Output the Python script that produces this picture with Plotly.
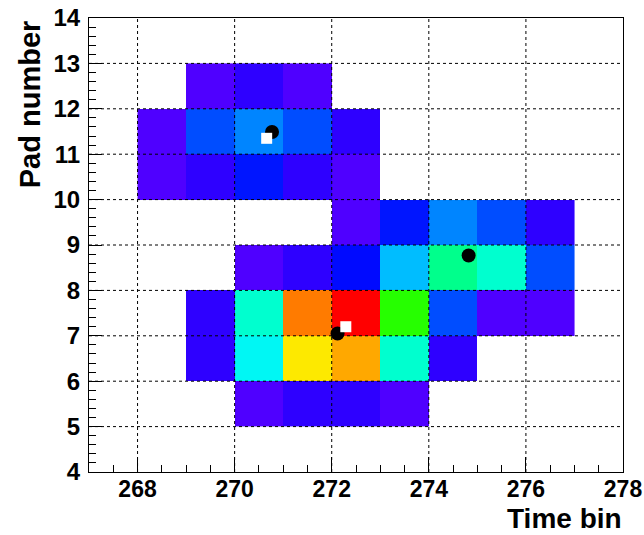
import colorsys
import plotly.graph_objects as go

# ---- data ----
x_bins = [268, 269, 270, 271, 272, 273, 274, 275, 276]   # lower edges of time bins
y_bins = [5, 6, 7, 8, 9, 10, 11, 12]                     # lower edges of pad bins
N = None
charge = [
    [N, N, 2, 5, 5, 2, N, N, N],          # pad 5
    [N, 5, 32, 79, 85, 36, 5, N, N],      # pad 6
    [N, 5, 36, 89, 100, 58, 16, 2, 2],    # pad 7
    [N, N, 2, 5, 10, 26, 42, 36, 16],     # pad 8
    [N, N, N, N, 2, 11, 21, 16, 5],       # pad 9
    [2, 5, 11, 5, 2, N, N, N, N],         # pad 10
    [2, 16, 21, 16, 5, N, N, N, N],       # pad 11
    [N, 2, 5, 2, N, N, N, N, N],          # pad 12
]
circle_x = [270.77, 272.12, 274.82]
circle_y = [11.49, 7.05, 8.77]
square_x = [270.66, 272.29]
square_y = [11.35, 7.20]

x_ticks = [268, 270, 272, 274, 276, 278]
y_ticks = [4, 5, 6, 7, 8, 9, 10, 11, 12, 13, 14]

# ---- palette (ROOT-like rainbow, violet -> red) ----
n = 30
colorscale = []
for i in range(n + 1):
    f = i / n
    h = (264 - 264 * f) / 360.0
    r, g, b = colorsys.hsv_to_rgb(h, 1, 1)
    colorscale.append([f, f"rgb({int(r*255)},{int(g*255)},{int(b*255)})"])

fig = go.Figure()
fig.add_trace(go.Heatmap(
    x=[v + 0.5 for v in x_bins],
    y=[v + 0.5 for v in y_bins],
    z=charge,
    zmin=0, zmax=100,
    colorscale=colorscale,
    showscale=False,
    hoverongaps=False,
))
fig.add_trace(go.Scatter(
    x=circle_x, y=circle_y, mode="markers",
    marker=dict(symbol="circle", size=14, color="black"),
    showlegend=False,
))
fig.add_trace(go.Scatter(
    x=square_x, y=square_y, mode="markers",
    marker=dict(symbol="square", size=11, color="white"),
    showlegend=False,
))

# dotted grid drawn above the cells (ROOT style)
shapes = []
for xv in x_ticks[:-1]:
    shapes.append(dict(type="line", xref="x", yref="paper", x0=xv, x1=xv, y0=0, y1=1,
                       line=dict(color="black", width=1, dash="dot"), layer="above"))
for yv in y_ticks[1:-1]:
    shapes.append(dict(type="line", xref="paper", yref="y", x0=0, x1=1, y0=yv, y1=yv,
                       line=dict(color="black", width=1, dash="dot"), layer="above"))

font_family = "Liberation Sans, Arial, sans-serif"
fig.update_layout(
    width=644, height=535,
    margin=dict(l=89, r=21, t=18, b=63),
    paper_bgcolor="white", plot_bgcolor="white",
    shapes=shapes,
    showlegend=False,
    xaxis=dict(
        range=[267, 278], tickvals=x_ticks, ticks="inside", ticklen=15, tickwidth=1,
        tickcolor="black", showgrid=False, zeroline=False, showline=True, linecolor="black",
        linewidth=1, mirror=True, ticklabelstandoff=-4, automargin=False,
        tickfont=dict(family=font_family, size=23, color="black", weight="bold"),
        minor=dict(dtick=0.5, tick0=0, ticks="inside", ticklen=7, tickcolor="black", showgrid=False),
    ),
    yaxis=dict(
        range=[4, 14], tickvals=y_ticks, ticks="inside", ticklen=13, tickwidth=1,
        tickcolor="black", showgrid=False, zeroline=False, showline=True, linecolor="black",
        linewidth=1, mirror=True, ticklabelstandoff=3, automargin=False,
        tickfont=dict(family=font_family, size=24, color="black", weight="bold"),
        minor=dict(dtick=0.2, tick0=0, ticks="inside", ticklen=7, tickcolor="black", showgrid=False),
    ),
    annotations=[
        dict(text="Time bin", xref="paper", yref="paper", x=1, y=-0.139,
             xanchor="right", yanchor="bottom", showarrow=False, borderpad=0,
             font=dict(family=font_family, size=28, color="black", weight="bold")),
        dict(text="Pad number", xref="paper", yref="paper", x=-0.11, y=1,
             xanchor="center", yanchor="top", textangle=-90, showarrow=False,
             font=dict(family=font_family, size=29, color="black", weight="bold")),
    ],
)

fig.write_html("out.html")
